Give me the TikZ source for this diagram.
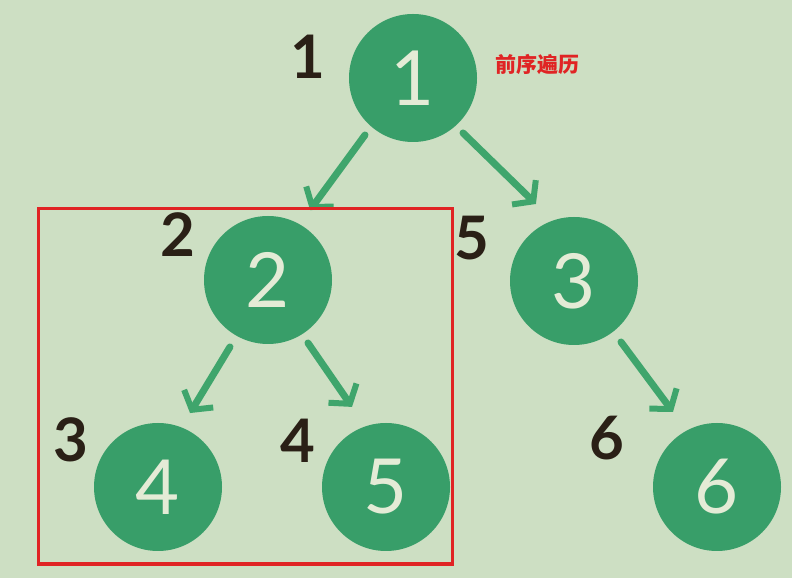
\documentclass[tikz,border=0pt]{standalone}
\usepackage{fontspec}
\setmainfont{Lato}
\newfontfamily\cjk{Noto Sans CJK SC}
\usetikzlibrary{arrows.meta,calc}
\definecolor{bg}{HTML}{CDDFC3}
\definecolor{nodegreen}{HTML}{389E69}
\definecolor{arrowgreen}{HTML}{3FA56C}
\definecolor{cream}{HTML}{E4EBD6}
\definecolor{ink}{HTML}{2A2016}
\definecolor{redline}{HTML}{E02424}
\tikzset{
  tnode/.style={circle, fill=nodegreen, draw=none, minimum size=128pt, inner sep=0pt,
    text=cream, font=\fontsize{76}{78}\selectfont},
  order/.style={text=ink, font=\bfseries\fontsize{60}{62}\selectfont, inner sep=0pt},
  arr/.style={draw=arrowgreen, line width=7pt, line cap=round,
    -{Straight Barb[length=13pt, width=34pt, line width=6pt]}},
  frame/.style={draw=redline, line width=3pt}
}
\begin{document}
\begin{tikzpicture}[x=1pt,y=1pt]
\fill[bg] (0,0) rectangle (792,578);
\useasboundingbox (0,0) rectangle (792,578);
\node[tnode] (n1) at (413,500) {1};
\node[tnode] (n2) at (268,298) {2};
\node[tnode] (n3) at (574,297) {3};
\node[tnode] (n4) at (158,91) {4};
\node[tnode] (n5) at (386,91) {5};
\node[tnode] (n6) at (717,91) {6};
\node[order] (o1) at (308,521) {1};
\node[order] (o2) at (178,343) {2};
\node[order] (o5) at (472,340) {5};
\node[order] (o3) at (71,138) {3};
\node[order] (o4) at (298,137) {4};
\node[order] (o6) at (607,140) {6};
\node[text=redline, font=\cjk\bfseries\fontsize{21}{23}\selectfont, inner sep=0pt] (title) at (537,513) {前序遍历};
\draw[arr] ($(n1)+(229.9:74.5)$) -- ($(n2)+(59:81.6)$);
\draw[arr] ($(n1)+(312.3:74.3)$) -- ($(n3)+(116.3:85.9)$);
\draw[arr] ($(n2)+(240.4:77)$) -- ($(n4)+(66.6:80.6)$);
\draw[arr] ($(n2)+(302.4:74.6)$) -- ($(n5)+(113:87)$);
\draw[arr] ($(n3)+(307.6:77)$) -- ($(n6)+(120.4:87)$);
\draw[frame] (38,14) rectangle (452,369);
\end{tikzpicture}
\end{document}
